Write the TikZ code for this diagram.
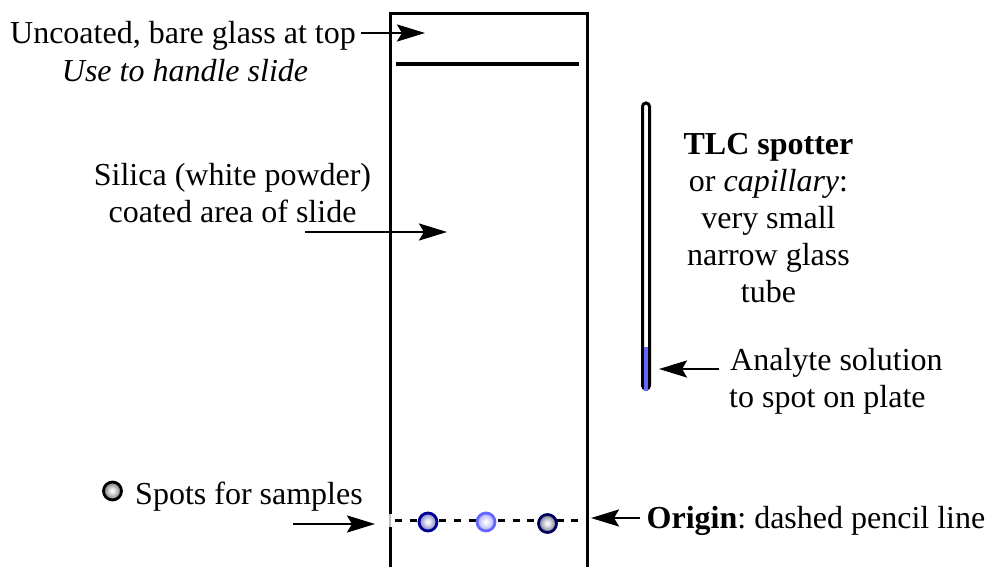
\documentclass[tikz,border=0pt]{standalone}
\usepackage{fontspec}
\setmainfont{Liberation Serif}
\usetikzlibrary{arrows.meta}
\definecolor{spotA}{RGB}{120,125,185}
\definecolor{spotB}{RGB}{165,165,255}
\definecolor{spotC}{RGB}{110,115,140}
\definecolor{spotD}{RGB}{115,115,115}
\pgfdeclareradialshading{spotshA}{\pgfpoint{-1bp}{1bp}}{color(0bp)=(white);color(6bp)=(white!85!spotA);color(25bp)=(spotA);color(50bp)=(spotA)}
\pgfdeclareradialshading{spotshB}{\pgfpoint{-1bp}{1bp}}{color(0bp)=(white);color(6bp)=(white!85!spotB);color(25bp)=(spotB);color(50bp)=(spotB)}
\pgfdeclareradialshading{spotshC}{\pgfpoint{-1bp}{1bp}}{color(0bp)=(white);color(6bp)=(white!85!spotC);color(25bp)=(spotC);color(50bp)=(spotC)}
\pgfdeclareradialshading{spotshD}{\pgfpoint{-1bp}{1bp}}{color(0bp)=(white);color(6bp)=(white!85!spotD);color(25bp)=(spotD);color(50bp)=(spotD)}
\tikzset{
  lbl/.style={inner sep=0pt,align=center,font=\fontsize{32}{37}\selectfont\frenchspacing},
  conn/.style={line width=2.6pt,-{Stealth[length=28pt,width=17pt,inset=5pt]}},
  wall/.style={line width=3pt,line cap=butt},
  spot/.style={circle,minimum size=18pt,inner sep=0pt,line width=2.8pt},
  tube/.style={line width=3pt,rounded corners=3.5pt}
}
\begin{document}
\begin{tikzpicture}[x=1pt,y=-1pt]
\useasboundingbox (0,0) rectangle (988,567);
% plate
\coordinate (pa) at (390,514);
\coordinate (pb) at (390,14);
\coordinate (pc) at (587,14);
\coordinate (pd) at (587,567);
\coordinate (pe) at (390,527);
\coordinate (pf) at (390,567);
\draw[wall,line join=miter] (pa) -- (pb) -- (pc) -- (pd);
\draw[wall] (pe) -- (pf);
\draw[line width=1.5pt,black!25] (pa) -- (pe);
\coordinate (la) at (396,64);
\coordinate (lb) at (579,64);
\draw[line width=3.4pt] (la) -- (lb);
% origin line
\coordinate (oa) at (395,520.5);
\coordinate (ob) at (585,520.5);
\draw[line width=3pt,dash pattern=on 7pt off 7.7pt] (oa) -- (ob);
% spots
\node[spot,draw=blue!60!black,shading=spotshA] (s1) at (428,522) {};
\node[spot,draw=blue!60,shading=spotshB] (s2) at (486,522) {};
\node[spot,draw=blue!35!black,shading=spotshC] (s3) at (547.5,523.5) {};
\node[spot,draw=black,shading=spotshD] (s4) at (112.5,491) {};
% capillary
\coordinate (ca) at (642.5,389);
\coordinate (cb) at (642.5,103);
\coordinate (cc) at (649.5,103);
\coordinate (cd) at (649.5,389);
\draw[tube] (ca) -- (cb) -- (cc) -- (cd) -- cycle;
\coordinate (ba) at (646,347);
\coordinate (bb) at (646,391);
\draw[line width=4pt,color=blue!60] (ba) -- (bb);
% texts
\node[lbl] (t1) at (183,36) {Uncoated, bare glass at top};
\node[lbl] (t2) at (185,71) {\itshape Use to handle slide};
\node[lbl] (t3) at (232.5,193) {Silica (white powder)\\coated area of slide};
\node[lbl] (t4) at (768.5,218) {\textbf{TLC spotter}\\or \textit{capillary}:\\very small\\narrow glass\\tube};
\node[lbl,align=left,anchor=west] (t5) at (729,381.5) {\hspace{1pt}Analyte solution\\to spot on plate};
\node[lbl] (t6) at (249,497) {Spots for samples};
\node[lbl] (t7) at (816,520.5) {\textbf{Origin}: dashed pencil line};
% arrows
\coordinate (a1) at (361,33);
\coordinate (a1e) at (425,33);
\draw[conn] (a1) -- (a1e);
\coordinate (a2) at (305,232);
\coordinate (a2e) at (447,232);
\draw[conn] (a2) -- (a2e);
\coordinate (a3) at (293,524);
\coordinate (a3e) at (375,524);
\draw[conn] (a3) -- (a3e);
\coordinate (a4) at (719,369);
\coordinate (a4e) at (659,369);
\draw[conn] (a4) -- (a4e);
\coordinate (a5) at (640,518);
\coordinate (a5e) at (591,518);
\draw[conn] (a5) -- (a5e);
\end{tikzpicture}
\end{document}
